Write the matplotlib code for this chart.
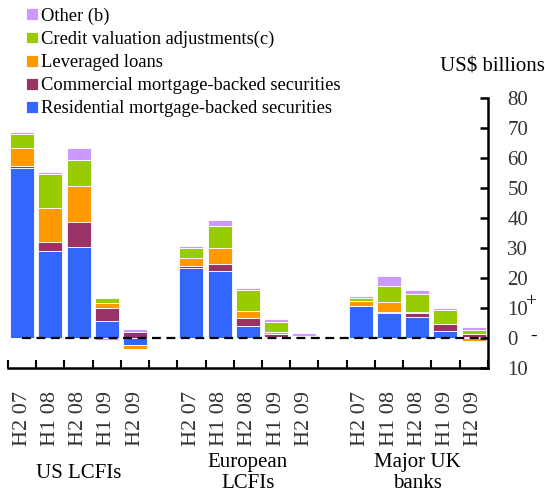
import numpy as np
import matplotlib
matplotlib.use("Agg")
from matplotlib import pyplot as plt

plt.rcParams['font.family'] = ['Liberation Serif', 'DejaVu Serif']

periods = ["H2 07", "H1 08", "H2 08", "H1 09", "H2 09"]
groups = ["US LCFIs", "European\nLCFIs", "Major UK\nbanks"]

# US LCFIs, European LCFIs, Major UK banks (5 periods each)
rmbs = [56.8, 28.9, 30.2, 5.6, -2.4,
        23.4, 22.2, 4.1, 0.4, 0.0,
        10.7, 8.2, 6.9, 2.2, 0.3]
cmbs = [0.5, 3.1, 8.6, 4.5, 2.0,
        0.7, 2.6, 2.7, 1.0, 0.0,
        0.1, 0.6, 1.3, 2.6, 1.0]
lev_loans = [5.9, 11.4, 12.0, 1.5, -1.4,
             2.7, 5.3, 2.1, 0.6, 0.2,
             1.4, 3.3, 0.6, 0.0, -1.1]
cva = [4.7, 11.4, 8.5, 1.8, 0.0,
       3.3, 7.3, 7.1, 3.4, 0.6,
       1.3, 5.3, 5.9, 4.6, 1.4]
other = [0.8, 0.5, 4.0, -0.5, 0.9,
         0.7, 1.9, 0.8, 0.8, 0.8,
         0.6, 3.3, 1.3, 0.7, 0.9]

series = [
    ("Residential mortgage-backed securities", rmbs, "#3366FF"),
    ("Commercial mortgage-backed securities", cmbs, "#993366"),
    ("Leveraged loans", lev_loans, "#FF9900"),
    ("Credit valuation adjustments(c)", cva, "#99CC00"),
    ("Other (b)", other, "#CC99FF"),
]

# bar slots: 5 bars, empty slot, 5 bars, empty slot, 5 bars
x = np.array([i + 6 * g for g in range(3) for i in range(5)])

fig = plt.figure(figsize=(5.45, 5.0), dpi=100)
ax = fig.add_axes([0.0147, 0.264, 0.8803, 0.54])

pos_base = np.zeros(len(x))
neg_base = np.zeros(len(x))
handles = []
for label, vals, color in series:
    v = np.array(vals)
    bottom = np.where(v >= 0, pos_base, neg_base)
    b = ax.bar(x, v, width=0.85, bottom=bottom, color=color,
               edgecolor="white", linewidth=0.6, label=label)
    handles.append(b)
    pos_base = pos_base + np.where(v >= 0, v, 0)
    neg_base = neg_base + np.where(v < 0, v, 0)

ax.plot([0, 16.5], [0, 0], color="black", ls=(0, (4, 2.5)), lw=1.6, zorder=5)

ax.set_xlim(-0.5, 16.5)
ax.set_ylim(-10, 80)

ax.spines["left"].set_visible(False)
ax.spines["top"].set_visible(False)
ax.spines["right"].set_linewidth(1.8)
ax.spines["bottom"].set_linewidth(1.8)

ax.yaxis.tick_right()
ax.set_yticks(range(-10, 81, 10))
ax.set_yticklabels(["10"] + [str(t) for t in range(0, 81, 10)])
ax.tick_params(axis="y", direction="in", length=6, width=1.8, pad=14,
               labelsize=15, labelcolor="#333333")

ax.set_xticks(np.arange(-0.5, 17, 1.0))
ax.set_xticklabels([])
ax.tick_params(axis="x", direction="in", length=6, width=1.5)

for xi, p in zip(x, periods * 3):
    ax.text(xi, -17.5, p, rotation=90, ha="center", va="top",
            fontsize=16, color="#333333")

for g, name in enumerate(groups):
    ax.text(2 + 6 * g, -45.0, name, ha="center", va="center",
            fontsize=15, color="black", linespacing=1.15)

# sign markers next to the axis labels
ax.text(1.09, 12, "+", transform=ax.get_yaxis_transform(), fontsize=14,
        ha="center", va="center", color="black")
ax.text(1.095, 0.5, "-", transform=ax.get_yaxis_transform(), fontsize=14,
        ha="center", va="center", color="black")
fig.text(0.999, 0.866, "US$ billions", ha="right", va="center",
         fontsize=15, color="black")

fig.legend(handles[::-1], [s[0] for s in series][::-1], loc="upper left",
           bbox_to_anchor=(0.035, 1.0), frameon=False, fontsize=13.3,
           handlelength=0.6, handleheight=0.6, handletextpad=0.2,
           labelspacing=0.33, borderaxespad=0)

fig.savefig("out.png", dpi=100)
